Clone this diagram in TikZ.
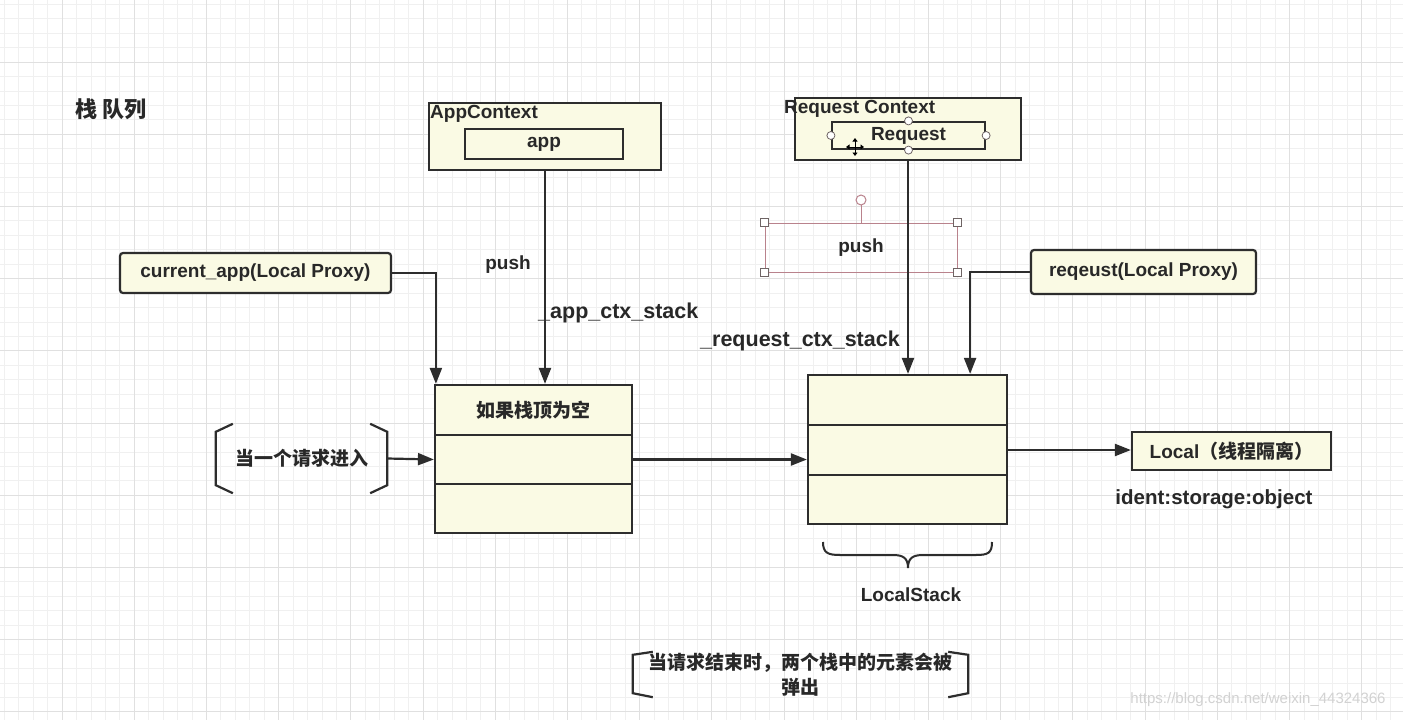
\documentclass[tikz,border=0pt]{standalone}
\usepackage{fontspec}
\setmainfont{Liberation Sans}
\newfontfamily\cjk{Noto Sans CJK SC}
\usetikzlibrary{arrows.meta,calc}
\definecolor{boxfill}{RGB}{250,250,228}
\definecolor{linec}{RGB}{45,45,45}
\definecolor{textc}{RGB}{40,40,40}
\definecolor{minorg}{RGB}{240,240,240}
\definecolor{majorg}{RGB}{224,224,224}
\definecolor{selc}{RGB}{185,130,140}
\definecolor{handc}{RGB}{110,100,100}
\tikzset{
  box/.style={draw=linec, fill=boxfill, line width=2.2pt, inner sep=0pt},
  rbox/.style={box, rounded corners=3pt},
  arr/.style={draw=linec, line width=2.2pt, -{Triangle[length=16pt,width=12pt]}},
  plain/.style={draw=linec, line width=2.2pt},
  lbl/.style={text=textc, font=\fontsize{19}{22}\selectfont\bfseries, inner sep=0pt},
  biglbl/.style={text=textc, font=\fontsize{21.5}{24}\selectfont\bfseries, inner sep=0pt},
  cjklbl/.style={text=textc, font=\fontsize{19}{25}\selectfont\cjk\bfseries, inner sep=0pt},
  minorline/.style={draw=minorg, line width=0.7pt},
  majorline/.style={draw=majorg, line width=1pt},
  handle/.style={draw=handc, fill=white, line width=0.8pt},
}
\begin{document}
\begin{tikzpicture}[x=1pt,y=-1pt]
\useasboundingbox (0,0) rectangle (1403,720);
\fill[white] (0,0) rectangle (1403,720);
% grid
\foreach \k in {0,...,97} \draw[minorline] ({4.24+\k*14.44},0) -- ({4.24+\k*14.44},720);
\foreach \k in {0,...,50} \draw[minorline] (0,{4.24+\k*14.44}) -- (1403,{4.24+\k*14.44});
\foreach \k in {-1,...,19} \draw[majorline] ({62+\k*72.2},0) -- ({62+\k*72.2},720);
\foreach \k in {-1,...,9} \draw[majorline] (0,{62+\k*72.2}) -- (1403,{62+\k*72.2});

% title
\node[cjklbl, font=\fontsize{22}{26}\selectfont\cjk\bfseries] (title) at (111,109) {栈 队列};

% AppContext
\node[box, minimum width=232pt, minimum height=67pt] (appctx) at (545,136.5) {};
\node[lbl, anchor=west] (appctxlbl) at (430,114) {AppContext};
\node[box, minimum width=158pt, minimum height=30pt, lbl] (app) at (544,144) {app};

% Request Context
\node[box, minimum width=226pt, minimum height=62pt] (reqctx) at (908,129) {};
\node[lbl, anchor=west] (reqctxlbl) at (784,109) {Request Context};
\node[box, minimum width=153pt, minimum height=27pt, lbl] (req) at (908.5,135.5) {Request};
\foreach \a in {west,east,north,south} \draw[handle] (req.\a) circle (4);
% move cursor
\coordinate (cur) at (855,147);
\foreach \d in {(0,-9),(0,9),(-9,0),(9,0)}
  \draw[draw=black, line width=1pt, -{Triangle[length=3.5pt,width=5pt]}] (cur) -- ++\d;

% push selection
\node[draw=selc, line width=0.9pt, minimum width=192pt, minimum height=49pt, lbl] (pushsel) at (861,247.5) {push};
\coordinate (rot) at (861,200);
\draw[draw=selc, line width=1pt] (pushsel.north) -- ($(rot)+(0,5)$);
\draw[draw=selc, fill=white, line width=1pt] (rot) circle (5);
\foreach \c in {north west,north east,south west,south east}
  \draw[handle] ($(pushsel.\c)+(-4,-4)$) rectangle ($(pushsel.\c)+(4,4)$);

% proxies
\node[rbox, minimum width=271pt, minimum height=40pt, lbl] (curapp) at (255.5,273) {current\_app(Local Proxy)};
\node[rbox, minimum width=225pt, minimum height=44pt, lbl] (reqproxy) at (1143.5,272) {reqeust(Local Proxy)};

% stack 1
\node[box, minimum width=197pt, minimum height=50pt, cjklbl] (s1a) at (533.5,410) {如果栈顶为空};
\node[box, minimum width=197pt, minimum height=49pt] (s1b) at (533.5,459.5) {};
\node[box, minimum width=197pt, minimum height=49pt] (s1c) at (533.5,508.5) {};

% stack 2
\node[box, minimum width=199pt, minimum height=50pt] (s2a) at (907.5,400) {};
\node[box, minimum width=199pt, minimum height=50pt] (s2b) at (907.5,450) {};
\node[box, minimum width=199pt, minimum height=49pt] (s2c) at (907.5,499.5) {};

% Local
\node[box, minimum width=199pt, minimum height=38pt, lbl] (local) at (1231.5,451) {Local{\cjk （线程隔离）}};
\node[lbl, font=\fontsize{20.5}{24}\selectfont\bfseries] (ident) at (1214,499) {ident:storage:object};

% labels on arrows
\node[lbl] (push1) at (508,265) {push};
\node[biglbl, anchor=west] (appstack) at (538,313) {\_app\_ctx\_stack};
\node[biglbl, anchor=west] (reqstack) at (700,341) {\_request\_ctx\_stack};

% entering request
\node[cjklbl, minimum width=171pt, minimum height=69pt] (enter) at (301.5,458.5) {当一个请求进入};
\draw[plain] ([xshift=17pt]enter.north west) -- ([yshift=-8pt]enter.north west) -- ([yshift=8pt]enter.south west) -- ([xshift=17pt]enter.south west);
\draw[plain] ([xshift=-17pt]enter.north east) -- ([yshift=-8pt]enter.north east) -- ([yshift=8pt]enter.south east) -- ([xshift=-17pt]enter.south east);

% connectors
\draw[arr] (curapp.east) -| ([xshift=2pt]s1a.north west);
\draw[arr] (appctx.south) -- (appctx.south |- s1a.north);
\draw[arr] (reqctx.south) -- (reqctx.south |- s2a.north);
\draw[arr] (reqproxy.west) -| ([xshift=-38pt]s2a.north east);
\draw[arr] (enter.east) -- (s1b.west);
\draw[arr] (s1b.east) -- (s1b.east -| s2a.west);
\draw[arr] (s2b.east) -- (s2b.east -| local.west);

% brace under stack 2
\draw[plain, line width=2pt] (823,542) .. controls (823,553) and (828,555) .. (840,555) -- (893,555) .. controls (903,555) and (908,558) .. (908,568) .. controls (908,558) and (913,555) .. (923,555) -- (976,555) .. controls (988,555) and (992,553) .. (992,542);
\node[lbl] (localstack) at (911,595) {LocalStack};

% end note
\node[cjklbl, align=center, minimum width=335pt, minimum height=45pt] (endnote) at (800.5,674.5) {当请求结束时，两个栈中的元素会被\\弹出};
\draw[plain] ([xshift=20pt]endnote.north west) -- ([yshift=-3pt]endnote.north west) -- ([yshift=4pt]endnote.south west) -- ([xshift=20pt]endnote.south west);
\draw[plain] ([xshift=-20pt]endnote.north east) -- ([yshift=-3pt]endnote.north east) -- ([yshift=4pt]endnote.south east) -- ([xshift=-20pt]endnote.south east);

% watermark
\node[text=gray!35, font=\fontsize{15}{18}\selectfont, inner sep=0pt] (wm) at (1258,700) {https://blog.csdn.net/weixin\_44324366};
\end{tikzpicture}
\end{document}
